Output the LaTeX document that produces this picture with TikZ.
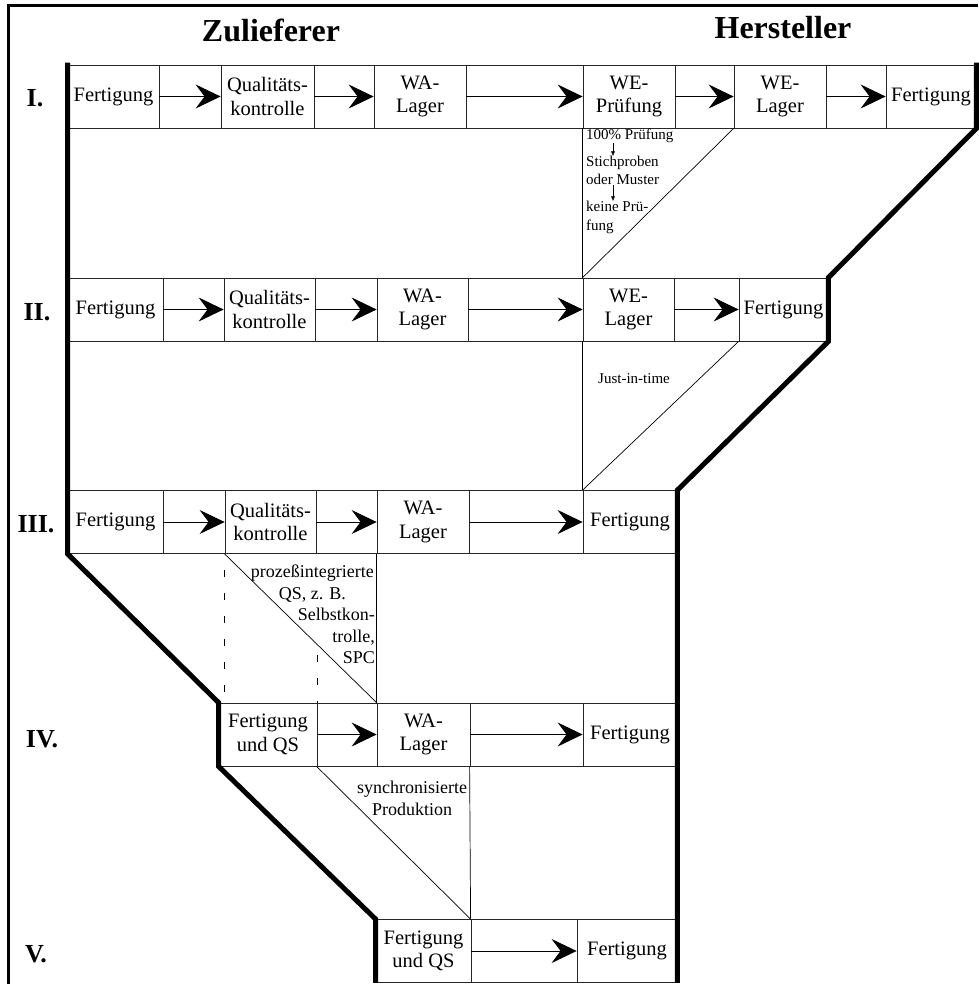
\documentclass[tikz,border=0pt]{standalone}
\usepackage{fontspec}
\setmainfont{Liberation Serif}
\usetikzlibrary{arrows.meta,positioning}
\tikzset{>={Stealth[length=25pt,width=24pt,inset=9pt]}}
\tikzstyle{cell}=[rectangle,draw=black!85,line width=0.8pt,minimum height=63pt,inner sep=0pt,align=center,font=\fontsize{20.5}{23.5}\selectfont]
\tikzstyle{flow}=[->,line width=0.8pt]
\tikzstyle{border}=[line width=5pt,line join=miter]
\tikzstyle{split}=[line width=0.7pt]
\tikzstyle{guide}=[line width=0.7pt,dash pattern=on 7pt off 16pt]
\tikzstyle{tick}=[-{Latex[length=5pt,width=4pt]},line width=0.6pt]
\tikzstyle{stage}=[anchor=base,font=\fontsize{26}{26}\selectfont\bfseries]
\tikzstyle{party}=[font=\fontsize{32}{32}\selectfont\bfseries]
\tikzstyle{note}=[inner sep=0pt,font=\fontsize{15}{18}\selectfont]
\tikzstyle{remark}=[inner sep=0pt,font=\fontsize{18}{21.5}\selectfont]

\begin{document}
\begin{tikzpicture}[x=1pt,y=-1pt]
	\useasboundingbox (0,0) rectangle (978,984);
	\draw[line width=2.5pt] (978,5.5) -- (8.5,5.5) -- (8.5,984);

	\def \yI {96.5};
	\def \yII {309.5};
	\def \yIII {522};
	\def \yIV {734.5};
	\def \yV {951};

	\node[party] (zul) at (271,30) {Zulieferer};
	\node[party] (her) at (783,28) {Hersteller};

	\node[stage] (sI) at (35,107) {I.};
	\node[stage] (sII) at (37,320) {II.};
	\node[stage] (sIII) at (36,532) {III.};
	\node[stage] (sIV) at (42,747) {IV.};
	\node[stage] (sV) at (36,962) {V.};

	\foreach \x/\w/\t [count=\i] in {68/91/Fertigung,159/62/{},221/93/Qualitäts-\\kontrolle,314/60/{},374/92/WA-\\Lager,466/117/{},583/92/WE-\\Prüfung,675/59/{},734/92/WE-\\Lager,826/60/{},886/90/Fertigung}
		\node[cell,minimum width=\w] (I\i) at (\x+\w/2,\yI) {\t};
	\foreach \x/\w/\t [count=\i] in {68/95/Fertigung,163/61/{},224/91/Qualitäts-\\kontrolle,315/62/{},377/91/WA-\\Lager,468/115/{},583/91/WE-\\Lager,674/65/{},739/89/Fertigung}
		\node[cell,minimum width=\w] (II\i) at (\x+\w/2,\yII) {\t};
	\foreach \x/\w/\t [count=\i] in {68/95/Fertigung,163/62/{},225/91/Qualitäts-\\kontrolle,316/61/{},377/92/WA-\\Lager,469/114/{},583/94/Fertigung}
		\node[cell,minimum width=\w] (III\i) at (\x+\w/2,\yIII) {\t};
	\foreach \x/\w/\t [count=\i] in {219/98/Fertigung\\und QS,317/60/{},377/93/WA-\\Lager,470/113/{},583/94/Fertigung}
		\node[cell,minimum width=\w] (IV\i) at (\x+\w/2,\yIV) {\t};
	\foreach \x/\w/\t [count=\i] in {376/95/Fertigung\\und QS,471/106/{},577/100/Fertigung}
		\node[cell,minimum width=\w] (V\i) at (\x+\w/2,\yV) {\t};

	\foreach \i in {1,3,5,7,9} {
		\pgfmathtruncatemacro{\j}{\i+2};
		\draw[flow] (I\i) -- (I\j);
	};
	\foreach \i in {1,3,5,7} {
		\pgfmathtruncatemacro{\j}{\i+2};
		\draw[flow] (II\i) -- (II\j);
	};
	\foreach \i in {1,3,5} {
		\pgfmathtruncatemacro{\j}{\i+2};
		\draw[flow] (III\i) -- (III\j);
	};
	\foreach \i in {1,3} {
		\pgfmathtruncatemacro{\j}{\i+2};
		\draw[flow] (IV\i) -- (IV\j);
	};
	\draw[flow] (V1) -- (V3);

	\draw[split] (I7.south west) -- (II7.north west);
	\draw[split] (I9.south west) -- (II7.north west);
	\draw[split] (II7.south west) -- (III7.north west);
	\draw[split] (II9.south west) -- (III7.north west);
	\draw[split] (III5.south west) -- (IV3.north west);
	\draw[split] (III3.south west) -- (IV3.north west);
	\draw[split] (IV4.south west) -- (V2.north west);
	\draw[split] (IV2.south west) -- (V2.north west);
	\draw[guide] (224,570) -- (224,703);
	\draw[guide] (317,655) -- (317,703);

	\draw[border] ([yshift=2pt]I1.north west) -- (III1.south west) -- (IV1.north west) -- (IV1.south west) -- (V1.north west) -- (V1.south west);
	\draw[border] ([yshift=2pt]I11.north east) -- (I11.south east) -- (II9.north east) -- (II9.south east) -- (III7.north east) -- (V3.south east);

	\node[note,anchor=base west] (p1) at (586,140) {100\% Prüfung};
	\node[note,anchor=base west] (p2) at (586,167) {Stichproben};
	\node[note,anchor=base west] (p3) at (586,185) {oder Muster};
	\node[note,anchor=base west] (p4) at (586,212) {keine Prü-};
	\node[note,anchor=base west] (p5) at (586,230) {fung};
	\draw[tick] ([xshift=27pt]p1.south west) -- ([xshift=27pt]p2.north west);
	\draw[tick] ([xshift=27pt]p3.south west) -- ([xshift=27pt]p4.north west);

	\node[note] (jit) at (634,379) {Just-in-time};

	\node[remark,align=center,anchor=north east] (pq) at (374,565) {prozeßintegrierte\\QS, z. B.};
	\node[remark,align=right,anchor=north east] (spc) at (375,608) {Selbstkon-\\trolle,\\SPC};
	\node[remark,align=center,anchor=north] (sync) at (412,781) {synchronisierte\\Produktion};
\end{tikzpicture}
\end{document}
